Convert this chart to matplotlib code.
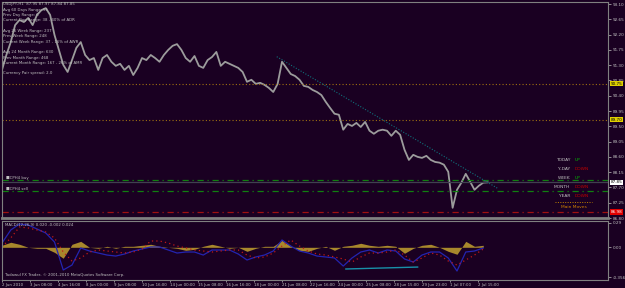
import numpy as np
import matplotlib.pyplot as plt

# USDJPY H1, close samples every 5 bars
close = [91.16, 91.60, 91.98, 92.48, 92.63, 92.57, 92.69, 92.48, 92.78, 92.92,
         92.98, 92.78, 92.19, 91.75, 91.31, 91.10, 91.45, 91.81, 91.98, 91.60,
         91.45, 91.51, 91.16, 91.51, 91.60, 91.40, 91.28, 91.34, 91.16, 91.28,
         91.01, 91.22, 91.51, 91.45, 91.60, 91.51, 91.40, 91.60, 91.75, 91.87,
         91.92, 91.75, 91.51, 91.40, 91.57, 91.28, 91.22, 91.45, 91.54, 91.69,
         91.28, 91.40, 91.34, 91.28, 91.22, 91.10, 90.81, 90.87, 90.75, 90.78,
         90.72, 90.63, 90.51, 90.75, 91.40, 91.22, 91.04, 90.98, 90.87, 90.69,
         90.66, 90.57, 90.51, 90.42, 90.22, 90.04, 89.87, 89.84, 89.40, 89.57,
         89.51, 89.60, 89.48, 89.63, 89.37, 89.28, 89.37, 89.40, 89.37, 89.22,
         89.37, 89.25, 88.81, 88.51, 88.66, 88.60, 88.57, 88.63, 88.51, 88.45,
         88.43, 88.37, 88.16, 87.10, 87.63, 87.84, 88.10, 87.87, 87.63, 87.75,
         87.84, 87.85]

# MACD samples every 10 bars
macd_main = [0.051, 0.206, 0.277, 0.265, 0.218, 0.170, 0.063, -0.270, -0.211, -0.008,
             -0.044, -0.068, -0.092, -0.104, -0.080, -0.044, -0.020, 0.004, 0.004, -0.032,
             -0.068, -0.056, -0.056, -0.092, -0.032, -0.032, -0.032, -0.080, -0.151, -0.115,
             -0.092, -0.044, 0.087, 0.015, -0.044, -0.068, -0.104, -0.115, -0.127, -0.223,
             -0.127, -0.056, -0.032, -0.068, -0.032, -0.044, -0.139, -0.175, -0.092, -0.056,
             -0.056, -0.127, -0.282, -0.056, -0.044, -0.008]
macd_signal = [0.004, 0.111, 0.242, 0.230, 0.206, 0.182, 0.111, -0.056, -0.163, -0.127,
               -0.056, -0.032, -0.044, -0.056, -0.068, -0.056, -0.020, 0.075, 0.075, 0.051,
               0.015, -0.008, -0.032, -0.044, -0.056, -0.044, -0.032, -0.032, -0.092, -0.127,
               -0.115, -0.068, 0.015, 0.087, 0.015, -0.044, -0.080, -0.092, -0.115, -0.139,
               -0.175, -0.115, -0.068, -0.068, -0.056, -0.032, -0.092, -0.175, -0.127, -0.068,
               -0.092, -0.163, -0.211, -0.151, -0.092, -0.020]
macd_hist = [0.024, 0.060, 0.036, 0.0, -0.012, -0.012, -0.060, -0.130, 0.036, 0.071,
             0.0, -0.012, 0.012, -0.012, 0.012, 0.012, 0.024, 0.036, 0.012, 0.0,
             -0.012, -0.036, -0.024, 0.012, 0.036, 0.012, -0.012, 0.0, -0.048, -0.012,
             0.012, 0.012, 0.083, 0.012, -0.036, -0.048, -0.012, 0.012, -0.036, 0.012,
             0.024, 0.048, 0.024, 0.012, 0.024, 0.012, -0.071, -0.012, 0.024, 0.036,
             0.0, -0.048, -0.083, 0.071, 0.012, 0.024]

tick_labels = ["2 Jun 2010", "3 Jun 08:00", "4 Jun 16:00", "8 Jun 00:00", "9 Jun 08:00",
               "10 Jun 16:00", "14 Jun 00:00", "15 Jun 08:00", "16 Jun 16:00", "18 Jun 00:00",
               "21 Jun 08:00", "22 Jun 16:00", "24 Jun 00:00", "25 Jun 08:00", "28 Jun 15:00",
               "29 Jun 23:00", "1 Jul 07:00", "2 Jul 15:00"]
price_ticks = [93.10, 92.65, 92.20, 91.75, 91.30, 90.85, 90.40, 89.95, 89.50,
               89.05, 88.60, 88.15, 87.70, 87.25, 86.80]
macd_ticks = [0.29, 0.0, -0.356]
macd_tick_labels = ["0.29", "0.00", "-0.356"]

# levels
pivot_lines = [90.75, 89.70]
buy_level = 87.92
sell_level = 87.60
stop_level = 86.98
bid = 87.85
trend_x = [314, 566]
trend_y = [91.55, 87.68]
cyan_x = [393, 475]
cyan_y = [-0.258, -0.235]

info_lines = ["USDJPY,H1  87.95 87.97 87.84 87.85",
              "Avg 60 Days Range: 95",
              "Prev Day Range: 6",
              "Current Day Range: 38 - 40% of ADR",
              "",
              "Avg 26 Week Range: 237",
              "Prev Week Range: 248",
              "Current Week Range: 37 - 16% of AWR",
              "",
              "Avg 24 Month Range: 630",
              "Prev Month Range: 468",
              "Current Month Range: 167 - 26% of AMR",
              "",
              "Currency Pair spread: 2.0"]
trend_names = ["TODAY", "Y-DAY", "WEEK", "MONTH", "YEAR"]
trend_vals = ["UP", "DOWN", "UP", "DOWN", "DOWN"]

BG = '#1a0022'
FG = '#c0c0c0'
W, H = 625, 288

fig = plt.figure(figsize=(6.25, 2.88), dpi=100, facecolor=BG)

def px(x, y):
    return x / W, 1 - y / H

ax = fig.add_axes([2/W, 1-218/H, 606/W, 216/H], facecolor=BG)
ax2 = fig.add_axes([2/W, 1-280/H, 606/W, 59/H], facecolor=BG)

xmax = 606 / 0.875
xb = np.arange(len(close)) * 5
ax.plot(xb, close, color='#9c9c9c', lw=1.3)
ax.set_xlim(0, xmax)
ax.set_ylim(86.81, 93.16)

for p in pivot_lines:
    ax.axhline(p, color='#a07010', lw=0.8, ls=(0, (1, 2)))
ax.axhline(buy_level, color='#108010', lw=0.9, ls=(0, (5, 3, 1, 3)))
ax.axhline(bid, color='#404050', lw=0.9)
ax.axhline(sell_level, color='#108010', lw=0.9, ls=(0, (5, 3, 1, 3)))
ax.axhline(stop_level, color='#a01010', lw=0.9, ls=(0, (5, 3, 1, 3)))
ax.plot(trend_x, trend_y, color='#10707a', lw=0.8, ls=(0, (1, 1.5)))

ax.yaxis.tick_right()
ax.set_yticks(price_ticks)
ax.set_yticklabels(["%.2f" % v for v in price_ticks])
ax.set_xticks([])
ax.tick_params(axis='y', colors=FG, labelsize=3, length=2, width=0.5, pad=1.5)
for s in ax.spines.values():
    s.set_color('#808080')
    s.set_linewidth(0.8)
ax.spines['bottom'].set_linewidth(2)

# price boxes on the axis
boxes = [(pivot_lines[0], '#e0d000', 'black'), (pivot_lines[1], '#e0d000', 'black'),
         (bid, '#ffffff', 'black'), (stop_level, '#e00000', 'white')]
for val, fc, tc in boxes:
    ax.annotate("%.2f" % val, xy=(1, val), xycoords=('axes fraction', 'data'),
                xytext=(2, 0), textcoords='offset points', fontsize=3, color=tc,
                va='center', ha='left',
                bbox=dict(boxstyle='square,pad=0.15', fc=fc, ec='none'))

ax.text(4, buy_level + 0.05, "\u25a0CPH4 buy", fontsize=2.8, color=FG, va='center')
ax.text(4, sell_level + 0.05, "\u25a0CPH4 sell", fontsize=2.8, color=FG, va='center')

# MACD pane
xm = np.arange(len(macd_main)) * 10
ax2.fill_between(xm, 0, macd_hist, color='#a8882c', lw=0)
ax2.plot(xm, macd_main, color='#2424b0', lw=0.9)
ax2.plot(xm, macd_signal, color='#c01818', lw=0.9, ls=(0, (1, 2.5)))
ax2.plot(cyan_x, cyan_y, color='#1890a8', lw=1.0)
ax2.set_xlim(0, xmax)
ax2.set_ylim(-0.389, 0.313)
ax2.yaxis.tick_right()
ax2.set_yticks(macd_ticks)
ax2.set_yticklabels(macd_tick_labels)
ax2.set_xticks(np.arange(len(tick_labels)) * 32)
ax2.set_xticklabels(tick_labels, ha='left')
ax2.tick_params(axis='y', colors=FG, labelsize=3, length=2, width=0.5, pad=1.5)
ax2.tick_params(axis='x', colors=FG, labelsize=2.8, length=1.5, width=0.5, pad=1)
for s in ax2.spines.values():
    s.set_color('#808080')
    s.set_linewidth(0.8)

ax2.text(3, 0.27, "MACD(12,26,9) 0.020 -0.002 0.024", fontsize=2.8, color=FG, va='center')
ax2.text(3, -0.33, "Tadawul FX Trader, \u00a9 2001-2010 MetaQuotes Software Corp.",
         fontsize=2.8, color=FG, va='center')

# info text top left
for i, t in enumerate(info_lines):
    if t:
        fig.text(*px(3, 4.5 + i * 5.3), t, fontsize=2.8, color=FG, va='center')

# trend panel
for i, (n, v) in enumerate(zip(trend_names, trend_vals)):
    y = 160 + i * 9
    fig.text(*px(570, y), n, fontsize=3.2, color=FG, ha='right', va='center')
    fig.text(*px(575, y), v, fontsize=3.2, color='#00c000' if v == "UP" else '#c00000',
             ha='left', va='center')
fig.add_artist(plt.Line2D([555/W, 592/W], [1-202/H, 1-202/H], color='#c08000', lw=0.7,
                          ls=(0, (1, 1.5))))
fig.text(*px(574, 207.5), "Main Moves", fontsize=3.2, color='#d08000', ha='center', va='center')

fig.savefig("out.png", dpi=100, facecolor=BG)
